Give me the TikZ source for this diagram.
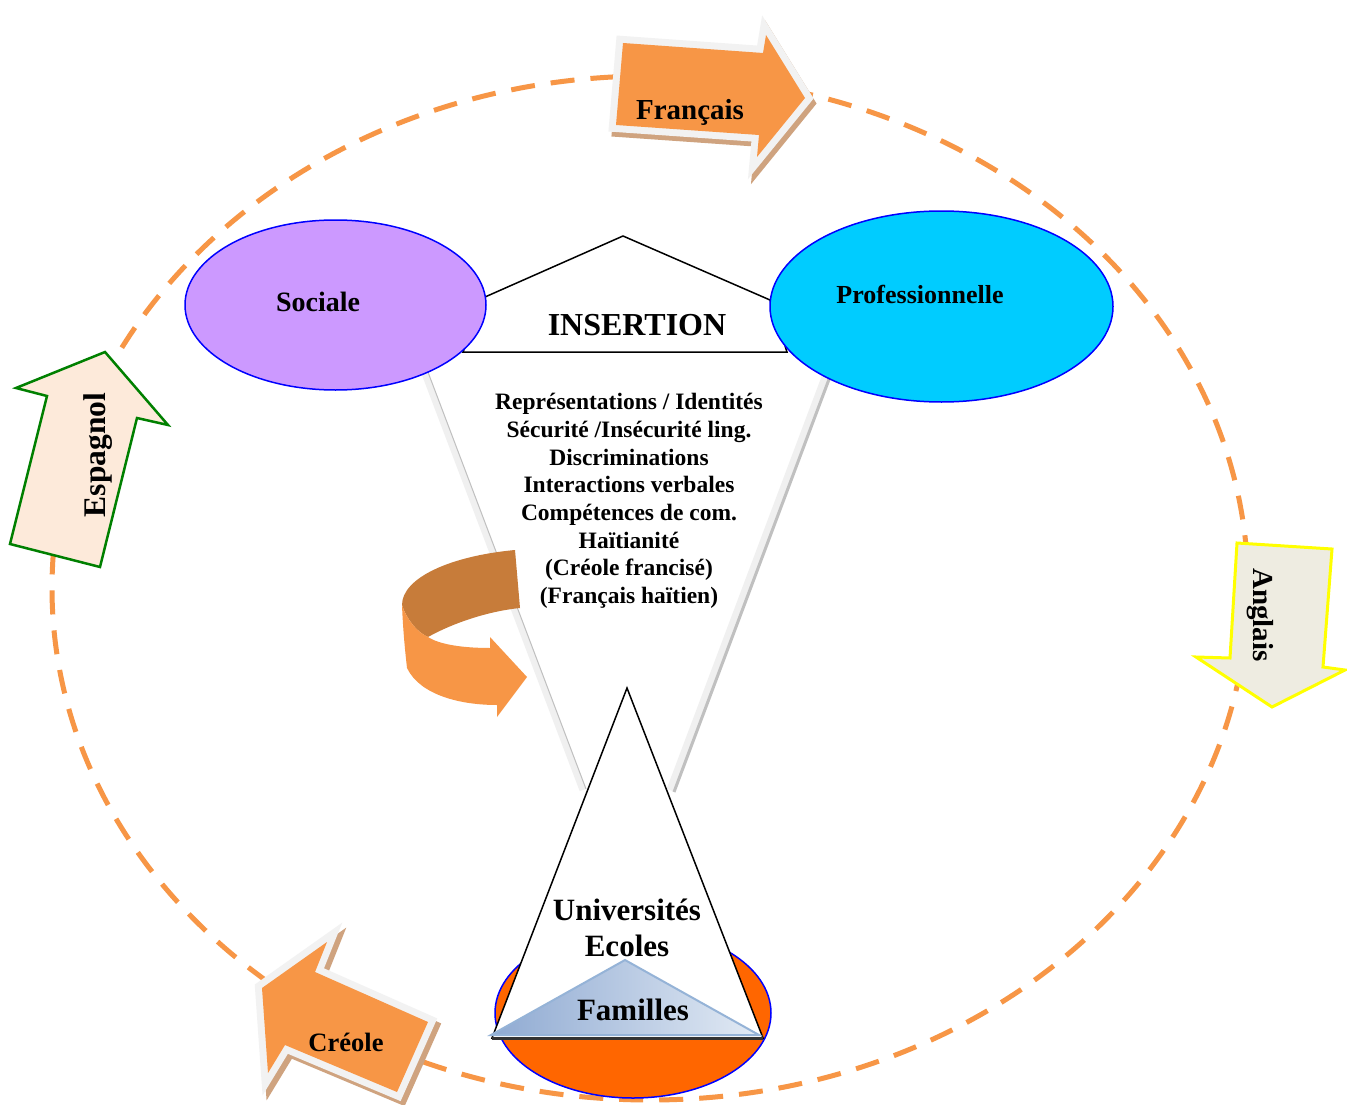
\documentclass[tikz,border=0pt]{standalone}
\usepackage{fontspec}
\setmainfont{Liberation Serif}
\usetikzlibrary{shapes.geometric}
\definecolor{orng}{HTML}{F79646}
\definecolor{brn}{HTML}{C77C3A}
\definecolor{shadowc}{HTML}{CFA37F}
\definecolor{outg}{HTML}{F2F2F2}
\definecolor{socc}{HTML}{CC99FF}
\definecolor{proc}{HTML}{00CCFF}
\definecolor{basec}{HTML}{FF6600}
\definecolor{famb}{HTML}{95B3D7}
\definecolor{famd}{HTML}{8FAAD2}
\definecolor{faml}{HTML}{E2EAF4}
\definecolor{espf}{HTML}{FDEADA}
\definecolor{espd}{HTML}{008000}
\definecolor{angf}{HTML}{EEECE1}
\definecolor{angd}{HTML}{FFFF00}
\definecolor{glight}{HTML}{F0F0F0}
\definecolor{gdark}{HTML}{C0C0C0}
\newcommand\frarrow[1]{\path[#1] (623,43) -- (763,53) -- (766,35) -- (805,98) -- (757,157) -- (759,135) -- (616,125) -- cycle;}
\newcommand\crarrow[1]{\path[#1] (262,988) -- (327,942) -- (315,972) -- (428,1022) -- (397,1092) -- (285,1045) -- (268,1073) -- cycle;}
\tikzset{
  lbl/.style={font=\bfseries, inner sep=0pt, text=black},
  shadowpart/.style={fill=shadowc, draw=shadowc, line width=14pt, line join=miter},
  outpart/.style={fill=outg, draw=outg, line width=14pt, line join=miter},
  orngpart/.style={fill=orng},
  bluerim/.style={draw=blue, line width=1.5pt, ellipse, inner sep=0pt},
}
\begin{document}
\begin{tikzpicture}[x=1pt,y=-1pt]
\useasboundingbox (0,0) rectangle (1347,1105);
\fill[white] (0,0) rectangle (1347,1105);

% dashed circle of languages
\draw[orng, line width=5pt, dash pattern=on 24pt off 16pt] (650,588) ellipse [x radius=598, y radius=512];

% grey V lines
\coordinate (la) at (420,360); \coordinate (lb) at (583,790);
\coordinate (la2) at (423,359); \coordinate (lb2) at (586,789);
\draw[glight, line width=7pt] (la) -- (lb);
\draw[gdark, line width=1pt] (la2) -- (lb2);
\coordinate (ra) at (830,364); \coordinate (rb) at (670,790);
\coordinate (ra2) at (834,366); \coordinate (rb2) at (674,792);
\draw[glight, line width=7pt] (ra) -- (rb);
\draw[gdark, line width=3pt] (ra2) -- (rb2);

% INSERTION pentagon
\draw[black, line width=1.5pt, fill=white] (485,297) -- (623,236) -- (770,300) -- (787,352) -- (463,352) -- cycle;
\node[lbl, font=\bfseries\fontsize{32}{36}\selectfont] (ins) at (637,325) {INSERTION};

% ellipses
\node[bluerim, fill=socc, minimum width=301pt, minimum height=170pt] (soc) at (335.5,305) {};
\node[lbl, font=\bfseries\fontsize{28}{32}\selectfont] (soct) at (318,302) {Sociale};
\node[bluerim, fill=proc, minimum width=343pt, minimum height=191pt] (pro) at (941.5,306.5) {};
\node[lbl, font=\bfseries\fontsize{26}{30}\selectfont] (prot) at (920,294) {Professionnelle};

% central list
\node[lbl, align=center, font=\bfseries\fontsize{23.5}{27.7}\selectfont] (list) at (629,501)
 {Représentations / Identités\\Sécurité /Insécurité ling.\\Discriminations\\Interactions verbales\\Compétences de com.\\Haïtianité\\(Créole francisé)\\(Français haïtien)};

% curved arrow
\fill[brn] (515,550) .. controls (450,556) and (402,578) .. (402,605)
  .. controls (407,620) and (417,632) .. (428,637)
  .. controls (455,622) and (490,611) .. (520,608) -- cycle;
\fill[orng] (402,605) .. controls (403,630) and (405,650) .. (407,668)
  .. controls (420,695) and (460,705) .. (497,705) -- (497,717) -- (527,677) -- (490,637) -- (490,648)
  .. controls (465,648) and (440,645) .. (428,637)
  .. controls (417,632) and (407,620) .. (402,605) -- cycle;

% base ellipse and cone
\node[bluerim, fill=basec, minimum width=276pt, minimum height=170pt] (base) at (633,1013) {};
\draw[black, line width=1.5pt, fill=white] (627,688) -- (763,1038) -- (492,1038) -- cycle;
\draw[famb, line width=2pt, left color=famd, right color=faml] (625,960) -- (759,1035) -- (491,1035) -- cycle;
\draw[black!80, line width=2.5pt] (492,1038.5) -- (763,1038.5);
\node[lbl, font=\bfseries\fontsize{31}{35}\selectfont] (univ) at (627,910) {Universités};
\node[lbl, font=\bfseries\fontsize{31}{35}\selectfont] (ecol) at (627,946) {Ecoles};
\node[lbl, font=\bfseries\fontsize{31}{35}\selectfont] (fam) at (633,1010) {Familles};

% Francais arrow
\frarrow{shadowpart, shift={(3,5)}}
\frarrow{outpart}
\frarrow{orngpart}
\node[lbl, font=\bfseries\fontsize{29}{33}\selectfont] (fr) at (690,112) {Français};

% Creole arrow
\crarrow{shadowpart, shift={(4,5)}}
\crarrow{outpart}
\crarrow{orngpart}
\node[lbl, font=\bfseries\fontsize{26.5}{30}\selectfont] (cr) at (346,1042) {Créole};

% Espagnol arrow
\draw[espd, fill=espf, line width=2.5pt, line join=miter] (105,352) -- (168,425) -- (137,418) -- (100,567) -- (10,544) -- (47,396) -- (16,388) -- cycle;
\node[lbl, rotate=90, font=\bfseries\fontsize{31.5}{35}\selectfont] (es) at (98,455) {Espagnol};

% Anglais arrow
\draw[angd, fill=angf, line width=3pt, line join=miter] (1237,543) -- (1332,549) -- (1323,667) -- (1345,670) -- (1272,707) -- (1196,657) -- (1230,658) -- cycle;
\node[lbl, rotate=-90, font=\bfseries\fontsize{29}{33}\selectfont] (an) at (1260,615) {Anglais};
\end{tikzpicture}
\end{document}
